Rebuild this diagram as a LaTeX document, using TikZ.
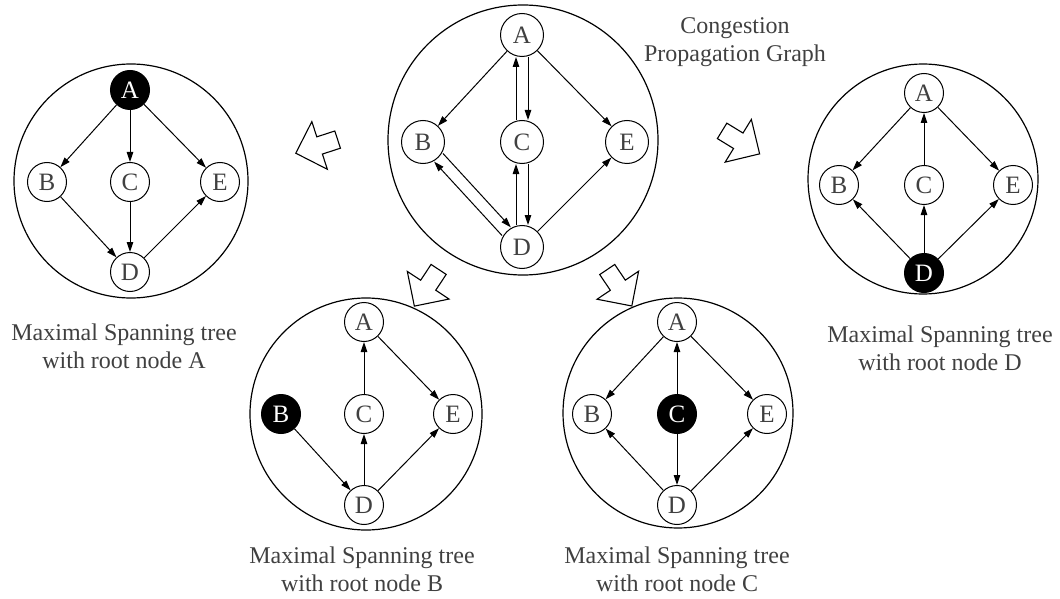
\documentclass[tikz,border=0pt]{standalone}
\usepackage{fontspec}
\setmainfont{Liberation Serif}
\usetikzlibrary{arrows.meta,shapes.arrows}
\definecolor{txgray}{HTML}{404040}

\begin{document}
\begin{tikzpicture}[x=1pt,y=-1pt,
  font=\fontsize{24}{28}\selectfont,
  ring/.style={draw,circle,line width=1.2pt,inner sep=0pt},
  nd/.style={draw,circle,line width=1pt,minimum size=39pt,inner sep=0pt,text=txgray,
    font=\fontsize{25}{28}\selectfont},
  big/.style={nd,minimum size=43pt},
  rt/.style={nd,fill=black,text=white},
  ed/.style={-{Triangle[length=10pt,width=6.5pt]},line width=1pt},
  blk/.style={draw,single arrow,line width=1.1pt,inner xsep=0pt,inner ysep=8.5pt,
    minimum height=44pt,minimum width=49pt,single arrow head extend=16pt},
  lbl/.style={align=center,text=txgray}]
\useasboundingbox (0,0) rectangle (1060,599);
% outer circles
\node[ring,minimum size=270pt] (g0) at (523,140) {};
\node[ring,minimum size=234pt] (g1) at (131,181) {};
\node[ring,minimum size=232pt] (g2) at (366,414) {};
\node[ring,minimum size=230pt] (g3) at (678,413) {};
\node[ring,minimum size=230pt] (g4) at (923,179) {};
% congestion propagation graph
\node[big] (A0) at (522,35) {A};
\node[big] (B0) at (423,142) {B};
\node[big] (C0) at (522,142) {C};
\node[big] (E0) at (627,142) {E};
\node[big] (D0) at (522,247) {D};
\draw[ed] (A0) -- (B0); \draw[ed] (A0) -- (E0); \draw[ed] (D0) -- (E0);
\draw[ed] ([xshift=-6pt]C0.north) -- ([xshift=-6pt]A0.south);
\draw[ed] ([xshift=6pt]A0.south) -- ([xshift=6pt]C0.north);
\draw[ed] ([xshift=-6pt]D0.north) -- ([xshift=-6pt]C0.south);
\draw[ed] ([xshift=6pt]C0.south) -- ([xshift=6pt]D0.north);
\draw[ed] ([shift={(4.4,-4.1)}]B0.south east) -- ([shift={(4.4,-4.1)}]D0.north west);
\draw[ed] ([shift={(-4.4,4.1)}]D0.north west) -- ([shift={(-4.4,4.1)}]B0.south east);
\node[lbl] (t0) at (735,42) {Congestion\\Propagation Graph};
% root A
\node[rt] (A1) at (130,90) {A};
\node[nd] (B1) at (47,182) {B};
\node[nd] (C1) at (130,182) {C};
\node[nd] (E1) at (220,182) {E};
\node[nd] (D1) at (130,272) {D};
\draw[ed] (A1) -- (B1); \draw[ed] (A1) -- (C1); \draw[ed] (A1) -- (E1);
\draw[ed] (B1) -- (D1); \draw[ed] (C1) -- (D1); \draw[ed] (D1) -- (E1);
\node[lbl] (t1) at (124,346) {Maximal Spanning tree\\with root node A};
% root B
\node[nd] (A2) at (364,322) {A};
\node[rt] (B2) at (281,414) {B};
\node[nd] (C2) at (364,414) {C};
\node[nd] (E2) at (453,414) {E};
\node[nd] (D2) at (364,505) {D};
\draw[ed] (C2) -- (A2); \draw[ed] (A2) -- (E2); \draw[ed] (B2) -- (D2);
\draw[ed] (D2) -- (C2); \draw[ed] (D2) -- (E2);
\node[lbl] (t2) at (362,569) {Maximal Spanning tree\\with root node B};
% root C
\node[nd] (A3) at (677,322) {A};
\node[nd] (B3) at (592,414) {B};
\node[rt] (C3) at (677,414) {C};
\node[nd] (E3) at (767,414) {E};
\node[nd] (D3) at (677,505) {D};
\draw[ed] (A3) -- (B3); \draw[ed] (C3) -- (A3); \draw[ed] (A3) -- (E3);
\draw[ed] (D3) -- (B3); \draw[ed] (C3) -- (D3); \draw[ed] (D3) -- (E3);
\node[lbl] (t3) at (677,569) {Maximal Spanning tree\\with root node C};
% root D
\node[nd] (A4) at (924,93) {A};
\node[nd] (B4) at (839,185) {B};
\node[nd] (C4) at (924,185) {C};
\node[nd] (E4) at (1013,185) {E};
\node[rt] (D4) at (924,273) {D};
\draw[ed] (A4) -- (B4); \draw[ed] (C4) -- (A4); \draw[ed] (A4) -- (E4);
\draw[ed] (D4) -- (B4); \draw[ed] (D4) -- (C4); \draw[ed] (D4) -- (E4);
\node[lbl] (t4) at (940,348) {Maximal Spanning tree\\with root node D};
% block arrows
\node[blk,rotate=198] (p1) at (321,145) {};
\node[blk,rotate=236.5] (p2) at (429,284) {};
\node[blk,rotate=-56] (p3) at (617,284) {};
\node[blk,rotate=-31.5] (p4) at (737,140) {};
\end{tikzpicture}
\end{document}
